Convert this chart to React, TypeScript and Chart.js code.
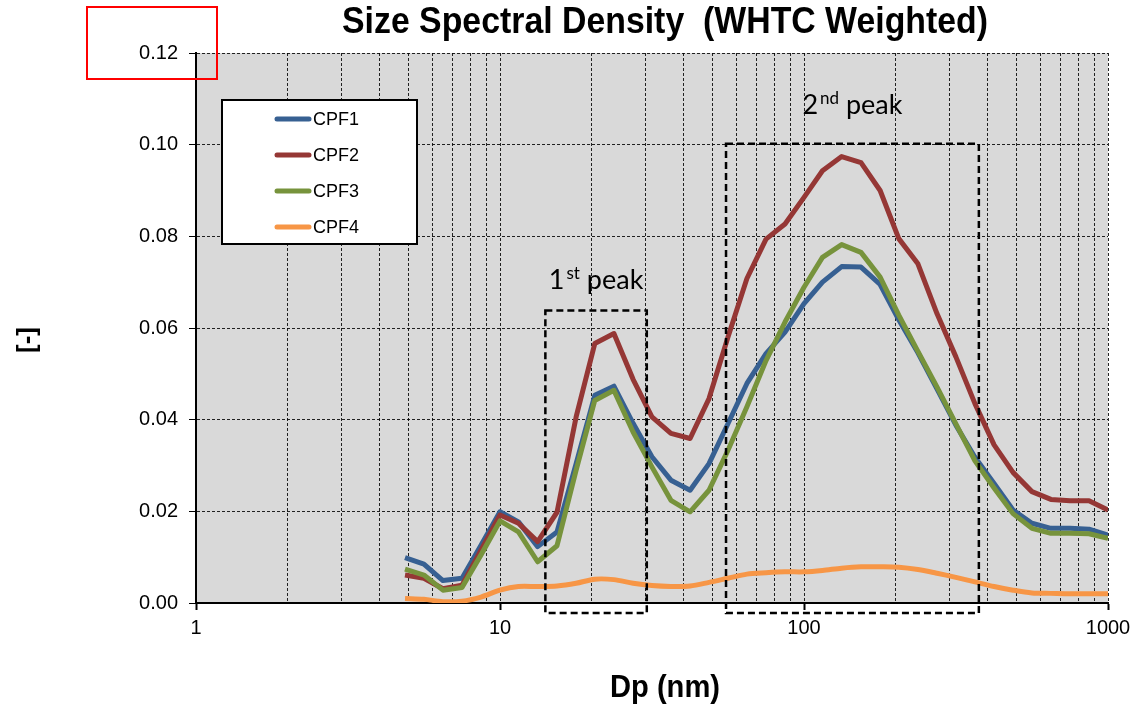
import React, { useEffect, useRef } from 'react';
import { Chart, registerables } from 'chart.js';

Chart.register(...registerables);

// ---- data ----
const diameters = [4.87, 5.62, 6.49, 7.5, 8.66, 10, 11.5, 13.3, 15.4, 17.8, 20.5, 23.7, 27.4, 31.6, 36.5, 42.2, 48.7, 56.2, 64.9, 75, 86.6, 100, 115, 133, 154, 178, 205, 237, 274, 316, 365, 422, 487, 562, 649, 750, 866, 1000];
const cpf1 = [0.0099, 0.0085, 0.0049, 0.0054, 0.0126, 0.0199, 0.0177, 0.0123, 0.0155, 0.0304, 0.0453, 0.0473, 0.0392, 0.0319, 0.0268, 0.0246, 0.0304, 0.0391, 0.0479, 0.0544, 0.0591, 0.0653, 0.0700, 0.0734, 0.0733, 0.0695, 0.0618, 0.0546, 0.0467, 0.0388, 0.0318, 0.0261, 0.0203, 0.0174, 0.0163, 0.0163, 0.0161, 0.0148];
const cpf2 = [0.0061, 0.0054, 0.0031, 0.0039, 0.0115, 0.0192, 0.0174, 0.0134, 0.0198, 0.0406, 0.0566, 0.0588, 0.0488, 0.0406, 0.0370, 0.0359, 0.0446, 0.0580, 0.0708, 0.0794, 0.0827, 0.0885, 0.0943, 0.0974, 0.0961, 0.0900, 0.0795, 0.0740, 0.0631, 0.0537, 0.0435, 0.0345, 0.0285, 0.0243, 0.0226, 0.0223, 0.0223, 0.0203];
const cpf3 = [0.0074, 0.0061, 0.0028, 0.0034, 0.0105, 0.0179, 0.0155, 0.0090, 0.0125, 0.0290, 0.0442, 0.0464, 0.0373, 0.0297, 0.0224, 0.0199, 0.0246, 0.0333, 0.0428, 0.0529, 0.0613, 0.0689, 0.0754, 0.0782, 0.0765, 0.0711, 0.0628, 0.0549, 0.0471, 0.0391, 0.0310, 0.0251, 0.0195, 0.0163, 0.0152, 0.0152, 0.0151, 0.0141];
const cpf4 = [0.0010, 0.0008, 0.0003, 0.0004, 0.0013, 0.0028, 0.0036, 0.0036, 0.0037, 0.0043, 0.0052, 0.0051, 0.0043, 0.0038, 0.0036, 0.0037, 0.0045, 0.0054, 0.0063, 0.0066, 0.0068, 0.0068, 0.0071, 0.0076, 0.0079, 0.0079, 0.0078, 0.0073, 0.0065, 0.0056, 0.0046, 0.0036, 0.0028, 0.0022, 0.0021, 0.0020, 0.0020, 0.0020];

const seriesNames = ['CPF1', 'CPF2', 'CPF3', 'CPF4'];
const seriesValues = [cpf1, cpf2, cpf3, cpf4];
const seriesColors = ['#376092', '#953735', '#77933C', '#F79646'];

const xTickValues = [1, 2, 3, 4, 5, 6, 7, 8, 9, 10, 20, 30, 40, 50, 60, 70, 80, 90, 100, 200, 300, 400, 500, 600, 700, 800, 900, 1000];
const xLabelValues = [1, 10, 100, 1000];
const yTickValues = [0, 0.02, 0.04, 0.06, 0.08, 0.1, 0.12];

const chartTitle = 'Size Spectral Density  (WHTC Weighted)';
const xTitle = 'Dp (nm)';
const yTitle = '[-]';

// peak annotation boxes (data units)
const peakOrdinals = ['1', '2'];
const peakSuffixes = ['st', 'nd'];
const peakXFrom = [14.1, 55.4];
const peakXTo = [30.4, 376];
const peakYTop = [0.0638, 0.1002];
const peakTextY = [0.0686, 0.1068];

const FONT = '"Liberation Sans", Arial, sans-serif';
const LABEL_FONT = 'Lato, "Open Sans", sans-serif';

const decorPlugin = {
  id: 'decor',
  beforeDraw(chart: any) {
    const { ctx, chartArea: a } = chart;
    ctx.save();
    ctx.fillStyle = '#D9D9D9';
    ctx.fillRect(a.left, a.top, a.right - a.left, a.bottom - a.top);
    ctx.restore();
  },
  afterDraw(chart: any) {
    const { ctx, chartArea: a, scales } = chart;
    const xs = scales.x;
    const ys = scales.y;

    // peak boxes
    ctx.save();
    ctx.strokeStyle = '#000';
    ctx.lineWidth = 2.5;
    ctx.setLineDash([7, 4]);
    for (let i = 0; i < peakOrdinals.length; i++) {
      const l = xs.getPixelForValue(peakXFrom[i]);
      const r = xs.getPixelForValue(peakXTo[i]);
      const t = ys.getPixelForValue(peakYTop[i]);
      const b = a.bottom + 10;
      ctx.strokeRect(l, t, r - l, b - t);
    }
    ctx.restore();

    // peak texts
    ctx.save();
    ctx.fillStyle = '#000';
    ctx.textBaseline = 'alphabetic';
    ctx.textAlign = 'left';
    for (let i = 0; i < peakOrdinals.length; i++) {
      const l = xs.getPixelForValue(peakXFrom[i]);
      const r = xs.getPixelForValue(peakXTo[i]);
      const cx = (l + r) / 2;
      const by = ys.getPixelForValue(peakTextY[i]);
      const big = '27px ' + LABEL_FONT;
      const small = '17px ' + LABEL_FONT;
      ctx.font = big;
      const w1 = ctx.measureText(peakOrdinals[i]).width;
      const w3 = ctx.measureText(' peak').width;
      ctx.font = small;
      const w2 = ctx.measureText(peakSuffixes[i]).width + 2;
      let x = cx - (w1 + w2 + w3) / 2;
      ctx.font = big;
      ctx.fillText(peakOrdinals[i], x, by);
      x += w1 + 2;
      ctx.font = small;
      ctx.fillText(peakSuffixes[i], x, by - 10);
      x += w2 - 2;
      ctx.font = big;
      ctx.fillText(' peak', x, by);
    }
    ctx.restore();

    // legend
    ctx.save();
    const lx = a.left + 26;
    const ly = a.top + 47;
    const lw = 195;
    const lh = 144;
    ctx.fillStyle = '#fff';
    ctx.fillRect(lx, ly, lw, lh);
    ctx.strokeStyle = '#000';
    ctx.lineWidth = 2;
    ctx.strokeRect(lx, ly, lw, lh);
    ctx.font = '18px ' + FONT;
    ctx.textBaseline = 'middle';
    ctx.textAlign = 'left';
    for (let i = 0; i < seriesNames.length; i++) {
      const yy = ly + 19 + i * 36;
      ctx.strokeStyle = seriesColors[i];
      ctx.lineWidth = 5;
      ctx.lineCap = 'round';
      ctx.beginPath();
      ctx.moveTo(lx + 55, yy);
      ctx.lineTo(lx + 87, yy);
      ctx.stroke();
      ctx.fillStyle = '#000';
      ctx.fillText(seriesNames[i], lx + 91, yy + 1);
    }
    ctx.restore();

    // titles
    ctx.save();
    ctx.fillStyle = '#000';
    ctx.textAlign = 'center';
    ctx.textBaseline = 'alphabetic';
    ctx.font = 'bold 36px ' + FONT;
    ctx.fillText(chartTitle, 665, 33, 646);
    ctx.font = 'bold 32px ' + FONT;
    ctx.fillText(xTitle, 665, 697, 110);
    ctx.translate(28, 340);
    ctx.rotate(-Math.PI / 2);
    ctx.textBaseline = 'middle';
    ctx.font = 'bold 26px ' + FONT;
    ctx.fillText(yTitle, 0, 0);
    ctx.restore();

    // red highlight rectangle
    ctx.save();
    ctx.strokeStyle = '#FF0000';
    ctx.lineWidth = 2;
    ctx.strokeRect(87, 7, 130, 72);
    ctx.restore();
  },
};

export default function App() {
  const canvasRef = useRef<HTMLCanvasElement | null>(null);

  useEffect(() => {
    const canvas = canvasRef.current;
    if (!canvas) return;
    const datasets = seriesNames.map((name, i) => ({
      label: name,
      data: diameters.map((d, j) => ({ x: d, y: seriesValues[i][j] })),
      borderColor: seriesColors[i],
      backgroundColor: seriesColors[i],
      borderWidth: 5,
      pointRadius: 0,
      tension: i === 3 ? 0.3 : 0,
      borderJoinStyle: 'round',
      borderCapStyle: 'butt',
      fill: false,
      order: seriesNames.length - i,
    }));

    const chart = new Chart(canvas, {
      type: 'line',
      data: { datasets } as any,
      options: {
        responsive: false,
        animation: false,
        devicePixelRatio: 1,
        layout: { padding: { top: 53, right: 37, left: 0, bottom: 0 } },
        plugins: {
          legend: { display: false },
          tooltip: { enabled: false },
          title: { display: false },
        },
        scales: {
          x: {
            type: 'logarithmic',
            position: 'bottom',
            min: 1,
            max: 1000,
            afterBuildTicks: (s: any) => {
              s.ticks = xTickValues.map((v) => ({ value: v, major: xLabelValues.includes(v) }));
            },
            afterFit: (s: any) => {
              s.height = 102;
            },
            ticks: {
              autoSkip: false,
              maxRotation: 0,
              minRotation: 0,
              padding: 6,
              color: '#000',
              font: { family: FONT, size: 20 },
              callback: (v: any) => (xLabelValues.includes(Number(v)) ? String(v) : ''),
            },
            grid: {
              color: 'rgba(0,0,0,0.85)',
              lineWidth: 1,
              drawTicks: true,
              tickLength: 7,
              tickWidth: 2,
              tickColor: (c: any) => (c.tick && xLabelValues.includes(c.tick.value) ? '#000' : 'rgba(0,0,0,0)'),
            },
            border: { display: true, color: '#000', width: 2, dash: [3, 2] },
          },
          y: {
            type: 'linear',
            min: 0,
            max: 0.12,
            afterBuildTicks: (s: any) => {
              s.ticks = yTickValues.map((v) => ({ value: v }));
            },
            afterFit: (s: any) => {
              s.width = 196;
            },
            ticks: {
              padding: 11,
              color: '#000',
              font: { family: FONT, size: 20 },
              callback: (v: any) => Number(v).toFixed(2),
            },
            grid: {
              color: 'rgba(0,0,0,0.85)',
              lineWidth: 1,
              drawTicks: true,
              tickLength: 7,
              tickWidth: 1,
              tickColor: '#000',
            },
            border: { display: true, color: '#000', width: 2, dash: [3, 2] },
          },
        },
      } as any,
      plugins: [decorPlugin],
    });

    let alive = true;
    if ((document as any).fonts && (document as any).fonts.ready) {
      (document as any).fonts.ready.then(() => {
        if (alive) chart.update();
      });
    }
    return () => {
      alive = false;
      chart.destroy();
    };
  }, []);

  return (
    <div style={{ position: 'absolute', left: 0, top: 0, width: 1145, height: 705 }}>
      <canvas ref={canvasRef} width={1145} height={705} style={{ display: 'block', width: 1145, height: 705 }} />
    </div>
  );
}
